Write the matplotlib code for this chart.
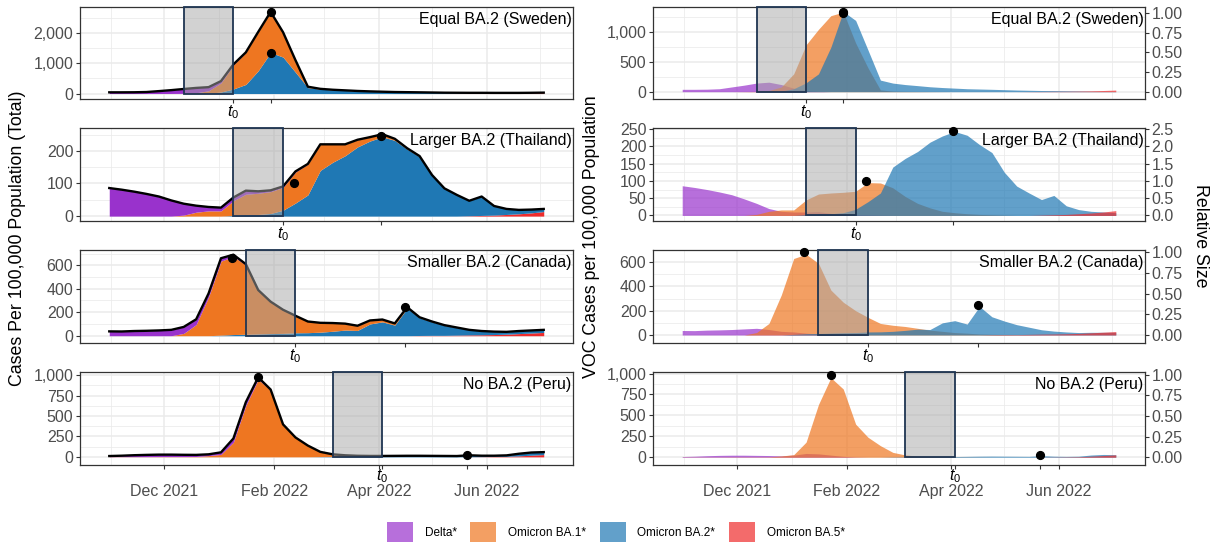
import numpy as np
import pandas as pd
import matplotlib
matplotlib.use("Agg")
import matplotlib.pyplot as plt
import matplotlib.dates as mdates
from matplotlib.patches import Rectangle, Patch
from matplotlib.ticker import FuncFormatter, MultipleLocator

plt.rcParams['font.family'] = ['Liberation Sans', 'DejaVu Sans']
plt.rcParams['mathtext.fontset'] = 'custom'
plt.rcParams['mathtext.it'] = 'Liberation Sans:italic'
plt.rcParams['mathtext.rm'] = 'Liberation Sans'

# ---------------------------------------------------------------- data
weeks = pd.date_range('2021-10-31', periods=36, freq='7D')

panel_titles = ['Equal BA.2 (Sweden)', 'Larger BA.2 (Thailand)',
                'Smaller BA.2 (Canada)', 'No BA.2 (Peru)']
variant_names = ['Delta*', 'Omicron BA.1*', 'Omicron BA.2*', 'Omicron BA.5*']

# weekly VOC cases per 100,000 population
delta_se = [40, 40, 42, 50, 80, 110, 145, 160, 120, 60, 20, 5] + [0] * 24
ba1_se = [0, 0, 0, 0, 0, 2, 5, 20, 80, 300, 790, 1050, 1280, 1340, 820, 400,
          30, 10, 5, 3, 2, 1] + [0] * 14
ba2_se = [0, 0, 0, 0, 0, 0, 0, 5, 10, 50, 150, 300, 750, 1350, 1200, 700,
          195, 145, 120, 102, 83, 70, 60, 50, 45, 40, 34, 28, 24, 20, 18, 15,
          12, 8, 5, 3]
ba5_se = [0] * 28 + [2, 4, 6, 7, 10, 14, 20, 27]

delta_th = [86, 81, 75, 68, 60, 48, 35, 20, 12, 10, 10, 11, 6, 4, 3, 2, 1] + [0] * 19
ba1_th = [0, 0, 0, 0, 0, 0, 3, 12, 16, 16, 45, 62, 65, 67, 70, 95, 94, 80,
          55, 35, 22, 12, 8, 5, 3, 2, 1] + [0] * 9
ba2_th = [0] * 10 + [2, 5, 5, 8, 18, 40, 65, 140, 165, 185, 212, 230, 243,
                     232, 205, 182, 125, 85, 65, 46, 58, 28, 17, 12, 10, 8]
ba5_th = [0] * 29 + [1, 2, 3, 5, 7, 10, 14]

delta_ca = [37, 36, 40, 42, 45, 50, 55, 45, 30, 25, 15, 8, 4, 2, 1] + [0] * 21
ba1_ca = [0, 0, 0, 0, 0, 0, 20, 95, 330, 630, 665, 590, 370, 270, 200, 145,
          95, 80, 70, 55, 40, 30, 20, 15, 8, 5, 3, 2, 1] + [0] * 7
ba2_ca = [0] * 9 + [5, 10, 12, 15, 18, 20, 25, 26, 30, 38, 48, 45, 100, 118,
                    90, 235, 150, 115, 85, 64, 43, 32, 25, 20, 22, 22, 22]
ba5_ca = [0] * 25 + [2, 3, 3, 5, 7, 8, 10, 13, 18, 23, 28]

delta_pe = [8, 12, 18, 22, 24, 24, 22, 20, 16, 25, 45, 40, 25, 10, 3] + [0] * 21
ba1_pe = [2, 2, 2, 2, 3, 3, 3, 4, 15, 30, 180, 630, 950, 815, 395, 238, 138,
          58, 27, 14, 8, 5, 3, 2, 1] + [0] * 11
ba2_pe = [0] * 17 + [3, 4, 5, 5, 6, 8, 10, 12, 13, 12, 11, 10, 18, 12, 10, 12,
                     26, 33, 30]
ba5_pe = [0] * 29 + [1, 2, 4, 6, 12, 20, 28]

delta = [delta_se, delta_th, delta_ca, delta_pe]
ba1 = [ba1_se, ba1_th, ba1_ca, ba1_pe]
ba2 = [ba2_se, ba2_th, ba2_ca, ba2_pe]
ba5 = [ba5_se, ba5_th, ba5_ca, ba5_pe]

# end of the t0 window (window is four weeks long)
t0_dates = ['2022-01-09', '2022-02-06', '2022-02-13', '2022-04-03']

# wave peaks: BA.1 peak defines relative size 1
ba1_peak_dates = ['2022-01-30', '2022-02-12', '2022-01-08', '2022-01-23']
ba1_peak_vals = [1325, 100, 680, 985]
ba2_peak_dates = ['2022-01-30', '2022-04-02', '2022-04-16', '2022-05-21']
ba2_peak_vals = [1350, 243, 243, 22]
# peak markers on the stacked totals
stack_ba1_vals = [2700, 100, 665, 980]
stack_ba2_vals = [1350, 245, 243, 22]

left_ylims = [(-180, 2850), (-15, 270), (-62, 730), (-100, 1040)]
right_ylims = [(-123, 1426), (-16, 253), (-66, 700), (-93, 1018)]
left_steps = [1000, 100, 200, 250]
right_steps = [500, 50, 200, 250]
rel_steps = [0.25, 0.5, 0.25, 0.25]

# ---------------------------------------------------------------- style
solid_cols = ['#9932CC', '#EE7621', '#1F78B4', '#EE2C2C']
light_alpha = 0.7
grid_col = '#EBEBEB'
tick_col = '#4D4D4D'

W, H = 1212, 546
fig = plt.figure(figsize=(W / 100, H / 100), dpi=100)

col_x = [(80, 573), (653, 1145)]
row_y = [(7, 99), (128, 221), (250, 343), (372, 465)]


def frac(x0, x1, y0, y1):
    return [x0 / W, 1 - y1 / H, (x1 - x0) / W, (y1 - y0) / H]


xlim = (mdates.date2num(pd.Timestamp('2021-10-14 12:00')),
        mdates.date2num(pd.Timestamp('2022-07-19 12:00')))
comma = FuncFormatter(lambda v, p: f'{v:,.0f}')


def style_axes(ax, ylim, step, last_row):
    ax.set_xlim(*xlim)
    ax.set_ylim(*ylim)
    ax.xaxis.set_major_locator(mdates.MonthLocator(bymonth=[12, 2, 4, 6]))
    ax.xaxis.set_minor_locator(mdates.MonthLocator(bymonth=[1, 3, 5, 7, 11]))
    ax.yaxis.set_major_locator(MultipleLocator(step))
    ax.yaxis.set_minor_locator(MultipleLocator(step / 2))
    ax.yaxis.set_major_formatter(comma)
    ax.grid(which='major', color=grid_col, lw=1.1, zorder=0)
    ax.grid(which='minor', color=grid_col, lw=0.55, zorder=0)
    ax.set_axisbelow(True)
    for s in ax.spines.values():
        s.set_color('#333333')
        s.set_linewidth(0.9)
    ax.tick_params(axis='y', which='major', length=2.8, width=0.8,
                   color='#333333', labelsize=11.5, labelcolor=tick_col, pad=2)
    ax.tick_params(which='minor', length=0)
    if last_row:
        ax.xaxis.set_major_formatter(mdates.DateFormatter('%b %Y'))
        ax.tick_params(axis='x', which='major', length=2.8, width=0.8,
                       color='#333333', labelsize=11.5, labelcolor=tick_col,
                       pad=11)
    else:
        ax.tick_params(axis='x', which='major', length=0, labelbottom=False)


def add_window(ax, i, ylim, last_row):
    t0 = mdates.date2num(pd.Timestamp(t0_dates[i]))
    rect = Rectangle((t0 - 28, 0), 28, ylim[1], facecolor=(0.65, 0.65, 0.65, 0.5),
                     edgecolor='#1F3552', lw=1.3, zorder=4, clip_on=False)
    ax.add_patch(rect)
    sec = ax.secondary_xaxis('bottom')
    sec.set_xticks([t0, mdates.date2num(pd.Timestamp(ba2_peak_dates[i]))])
    sec.set_xticklabels(['$t_0$', ''])
    sec.tick_params(length=2.8, width=0.8, color='#333333', labelsize=11.5,
                    pad=-1.5 if last_row else 0.5, labelcolor='black')
    sec.spines['bottom'].set_visible(False)


for i in range(4):
    last = i == 3
    # stacked totals
    axl = fig.add_axes(frac(*col_x[0], *row_y[i]))
    style_axes(axl, left_ylims[i], left_steps[i], last)
    layers = [ba5[i], ba2[i], ba1[i], delta[i]]
    layer_cols = [solid_cols[3], solid_cols[2], solid_cols[1], solid_cols[0]]
    base = np.zeros(len(weeks))
    for vals, c in zip(layers, layer_cols):
        top = base + np.asarray(vals, float)
        axl.fill_between(weeks, base, top, color=c, lw=0, zorder=2)
        base = top
    axl.plot(weeks, base, color='black', lw=1.7, zorder=3,
             solid_joinstyle='round')
    add_window(axl, i, left_ylims[i], last)
    axl.plot([pd.Timestamp(ba1_peak_dates[i]), pd.Timestamp(ba2_peak_dates[i])],
             [stack_ba1_vals[i], stack_ba2_vals[i]], 'o', color='black',
             ms=5.6, zorder=6, clip_on=False)
    axl.text(0.997, 0.95, panel_titles[i], transform=axl.transAxes,
             ha='right', va='top', fontsize=11.5, zorder=7)

    # individual variants
    axr = fig.add_axes(frac(*col_x[1], *row_y[i]))
    style_axes(axr, right_ylims[i], right_steps[i], last)
    for vals, c in zip([delta[i], ba1[i], ba2[i], ba5[i]], solid_cols):
        axr.fill_between(weeks, 0, vals, color=c, alpha=light_alpha, lw=0,
                         zorder=2)
    add_window(axr, i, right_ylims[i], last)
    axr.plot([pd.Timestamp(ba1_peak_dates[i]), pd.Timestamp(ba2_peak_dates[i])],
             [ba1_peak_vals[i], ba2_peak_vals[i]], 'o', color='black',
             ms=5.6, zorder=6, clip_on=False)
    axr.text(0.997, 0.95, panel_titles[i], transform=axr.transAxes,
             ha='right', va='top', fontsize=11.5, zorder=7)

    # relative size axis
    tw = axr.twinx()
    tw.set_ylim(right_ylims[i][0] / ba1_peak_vals[i],
                right_ylims[i][1] / ba1_peak_vals[i])
    tw.yaxis.set_major_locator(MultipleLocator(rel_steps[i]))
    fmt = '%.2f' if rel_steps[i] < 0.5 else '%.1f'
    tw.yaxis.set_major_formatter(FuncFormatter(lambda v, p, f=fmt: f % v))
    tw.tick_params(axis='y', length=2.8, width=0.8, color='#333333',
                   labelsize=11.5, labelcolor=tick_col, pad=2)
    for s in tw.spines.values():
        s.set_visible(False)

fig.text(18 / W, 1 - 238 / H, 'Cases Per 100,000 Population (Total)',
         rotation=90, ha='center', va='center', fontsize=12.8)
fig.text(591 / W, 1 - 237 / H, 'VOC Cases per 100,000 Population',
         rotation=90, ha='center', va='center', fontsize=12.8)
fig.text(1200 / W, 1 - 236 / H, 'Relative Size', rotation=270,
         ha='center', va='center', fontsize=12.8)

handles = [Patch(facecolor=c, alpha=light_alpha, edgecolor='none')
           for c in solid_cols]
fig.legend(handles, variant_names, loc='center',
           bbox_to_anchor=(0.508, 1 - 532 / H), ncol=4, frameon=False,
           fontsize=8.5, handlelength=2.2, handleheight=2.2,
           handletextpad=1.0, columnspacing=1.15)

fig.savefig('out.png', dpi=100)
